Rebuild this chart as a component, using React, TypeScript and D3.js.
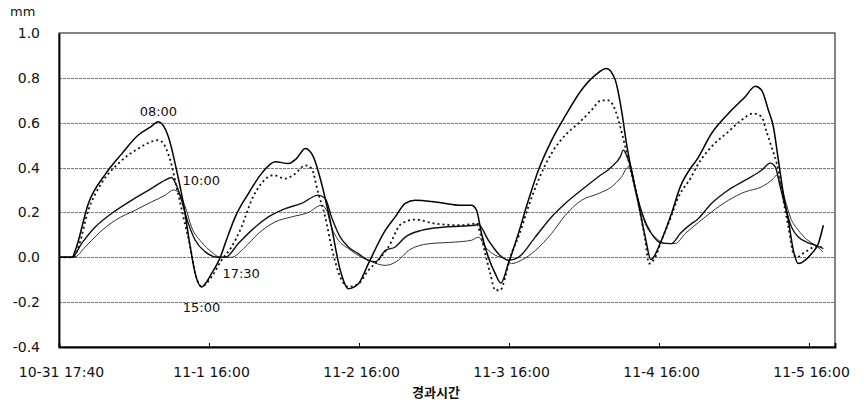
import * as d3 from "d3";
import { useEffect, useRef } from "react";

// elapsed hours (tick labels every 24h) and displacement in mm
const xTickLabels = ["10-31 17:40", "11-1 16:00", "11-2 16:00", "11-3 16:00", "11-4 16:00", "11-5 16:00"];
const yTicks = [1.0, 0.8, 0.6, 0.4, 0.2, 0.0, -0.2, -0.4];

// series A - solid, largest
const seriesA = [
  [0, 0], [2.1, 0], [2.6, 0.03], [4.7, 0.24], [7.4, 0.37], [10.0, 0.46], [12.7, 0.545], [14.6, 0.58],
  [15.9, 0.604], [17.5, 0.537], [18.8, 0.39], [19.9, 0.24], [21.0, 0.046], [21.8, -0.073], [22.8, -0.132],
  [24.4, -0.073], [25.8, 0.0], [26.7, 0.07], [28.2, 0.18], [30.3, 0.284], [32.4, 0.373], [34.6, 0.426],
  [36.7, 0.418], [38.0, 0.44], [39.4, 0.485], [40.7, 0.448], [42.0, 0.33], [43.6, 0.135], [45.0, -0.058],
  [46.3, -0.14], [47.9, -0.118], [49.5, -0.028], [52.2, 0.12], [53.8, 0.18], [55.4, 0.24], [57.0, 0.254],
  [60.2, 0.247], [64.4, 0.232], [66.0, 0.232], [66.8, 0.21], [67.6, 0.106], [68.7, 0.0], [69.8, -0.073],
  [70.7, -0.115], [71.9, -0.028], [73.5, 0.106], [75.1, 0.254], [76.7, 0.388], [78.8, 0.52], [81.0, 0.63],
  [83.6, 0.746], [85.8, 0.812], [87.6, 0.842], [89.0, 0.79], [90.0, 0.656], [90.8, 0.507], [91.6, 0.388],
  [92.7, 0.24], [93.8, 0.09], [94.7, -0.01], [96.4, 0.076], [98.0, 0.195], [99.4, 0.314], [101.2, 0.403],
  [102.0, 0.433], [104.4, 0.552], [107.1, 0.641], [109.8, 0.716], [111.4, 0.763], [112.4, 0.746],
  [113.5, 0.656], [114.3, 0.582], [115.1, 0.433], [115.9, 0.284], [116.7, 0.165], [117.5, 0.031],
  [118.3, -0.028], [119.4, -0.013], [120.4, 0.016], [121.5, 0.061], [122.3, 0.143],
];

// series B - dotted, large
const seriesB = [
  [0, 0], [2.3, 0], [3.1, 0.046], [4.7, 0.21], [6.8, 0.33], [9.5, 0.418], [12.7, 0.485], [15.9, 0.522],
  [16.7, 0.507], [17.8, 0.433], [18.8, 0.314], [19.9, 0.18], [21.0, 0.046], [21.8, -0.073], [22.8, -0.13],
  [24.4, -0.088], [26.0, -0.013], [27.6, 0.046], [29.2, 0.135], [30.8, 0.254], [32.4, 0.33], [34.3, 0.366],
  [36.2, 0.351], [37.8, 0.373], [39.4, 0.41], [40.4, 0.396], [41.5, 0.284], [42.6, 0.18], [43.6, 0.046],
  [45.0, -0.088], [46.3, -0.132], [47.9, -0.118], [49.5, -0.058], [51.1, -0.013], [52.7, 0.046],
  [54.8, 0.15], [57.0, 0.168], [60.2, 0.15], [64.4, 0.143], [66.8, 0.15], [67.4, 0.106], [68.2, 0.016],
  [69.0, -0.073], [69.8, -0.147], [70.6, -0.147], [71.4, -0.088], [72.2, 0.0], [73.5, 0.09], [75.1, 0.225],
  [76.7, 0.344], [78.8, 0.463], [81.0, 0.545], [83.1, 0.597], [85.2, 0.656], [86.8, 0.7], [87.9, 0.7],
  [89.0, 0.656], [89.8, 0.582], [90.6, 0.493], [91.6, 0.373], [92.7, 0.24], [93.8, 0.076], [94.4, -0.028],
  [95.4, 0.0], [96.4, 0.076], [97.5, 0.15], [99.1, 0.268], [101.2, 0.36], [102.0, 0.403], [104.4, 0.493],
  [107.1, 0.56], [109.2, 0.612], [111.1, 0.641], [112.4, 0.627], [113.2, 0.56], [114.0, 0.493],
  [115.1, 0.388], [115.9, 0.254], [116.7, 0.135], [117.5, 0.016], [118.0, 0.0], [119.4, 0.024],
  [121.0, 0.046], [122.0, 0.046],
];

// series C - solid, medium
const seriesC = [
  [0, 0], [2.1, 0], [3.6, 0.061], [5.8, 0.135], [8.4, 0.195], [11.6, 0.254], [14.8, 0.307], [17.0, 0.344],
  [18.0, 0.356], [18.8, 0.321], [19.6, 0.254], [20.7, 0.15], [21.8, 0.076], [23.4, 0.024], [25.5, 0.0],
  [26.6, 0.0], [28.7, 0.061], [30.8, 0.12], [33.5, 0.18], [36.2, 0.217], [38.8, 0.24], [41.5, 0.277],
  [42.6, 0.262], [43.6, 0.18], [45.0, 0.09], [46.3, 0.046], [47.9, 0.016], [49.5, -0.013], [50.6, -0.02],
  [52.2, 0.03], [53.8, 0.046], [55.4, 0.09], [58.0, 0.12], [61.8, 0.135], [66.6, 0.143], [67.0, 0.15],
  [68.7, 0.076], [70.3, 0.016], [71.9, -0.013], [73.5, 0.0], [76.2, 0.09], [78.8, 0.18], [81.0, 0.24],
  [83.6, 0.3], [86.3, 0.359], [88.4, 0.403], [89.8, 0.448], [90.3, 0.478], [90.8, 0.455], [91.6, 0.388],
  [92.4, 0.284], [93.5, 0.18], [94.8, 0.106], [96.4, 0.064], [98.0, 0.061], [99.4, 0.106], [101.2, 0.15],
  [102.0, 0.165], [104.4, 0.24], [107.1, 0.3], [109.8, 0.344], [112.4, 0.388], [113.8, 0.42],
  [114.6, 0.403], [115.4, 0.314], [116.2, 0.225], [117.2, 0.135], [118.3, 0.09], [119.6, 0.068],
  [121.0, 0.054], [122.3, 0.039],
];

// series D - thin solid, smallest
const seriesD = [
  [0, 0], [2.4, 0], [4.2, 0.046], [6.3, 0.106], [9.0, 0.165], [12.2, 0.21], [14.8, 0.247], [17.0, 0.277],
  [18.3, 0.3], [19.1, 0.29], [20.2, 0.225], [21.2, 0.135], [22.8, 0.068], [24.4, 0.024], [25.8, 0.0],
  [27.6, 0.0], [29.8, 0.046], [31.9, 0.106], [34.6, 0.158], [37.2, 0.18], [39.9, 0.2], [42.0, 0.232],
  [42.8, 0.21], [43.6, 0.135], [44.7, 0.076], [46.3, 0.039], [48.4, 0.0], [50.0, -0.02], [52.2, -0.036],
  [54.3, -0.013], [55.9, 0.03], [59.1, 0.06], [63.4, 0.068], [66.0, 0.076], [67.1, 0.09], [68.2, 0.046],
  [69.8, 0.009], [71.4, -0.006], [72.4, -0.028], [74.0, -0.013], [76.2, 0.03], [78.8, 0.106], [81.0, 0.187],
  [83.6, 0.254], [86.3, 0.284], [88.4, 0.314], [90.0, 0.359], [91.1, 0.403], [91.9, 0.344], [92.7, 0.254],
  [93.8, 0.15], [95.4, 0.09], [97.0, 0.061], [98.6, 0.061], [100.2, 0.106], [102.3, 0.155], [104.4, 0.202],
  [107.1, 0.254], [109.8, 0.292], [112.4, 0.314], [114.3, 0.351], [114.8, 0.366], [115.4, 0.329],
  [116.2, 0.254], [117.0, 0.18], [118.3, 0.12], [119.8, 0.076], [121.4, 0.046], [122.2, 0.024],
];

// time-of-day notes and the point they mark
const noteLabels = ["08:00", "10:00", "15:00", "17:30"];
const notePoints = [[15.9, 0.604], [18.0, 0.356], [22.8, -0.132], [25.5, 0.0]];

function App() {
  const ref = useRef(null);

  useEffect(() => {
    const width = 868;
    const height = 407;
    const margin = { top: 33, right: 33, bottom: 60, left: 59 };

    const svg = d3.select(ref.current);
    svg.selectAll("*").remove();

    const x = d3.scaleLinear().domain([0, 124.16]).range([margin.left, width - margin.right]);
    const y = d3.scaleLinear().domain([-0.4, 1.0]).range([height - margin.bottom, margin.top]);

    const font = "'DejaVu Sans', sans-serif";

    // grid
    svg
      .append("g")
      .selectAll("line")
      .data(yTicks.filter((d) => d > -0.4 && d < 1.0))
      .join("line")
      .attr("x1", x(0))
      .attr("x2", x(124.16))
      .attr("y1", (d) => Math.round(y(d)) + 0.5)
      .attr("y2", (d) => Math.round(y(d)) + 0.5)
      .attr("stroke", "#777")
      .attr("stroke-width", 1)
      .attr("stroke-dasharray", "3,1");

    // frame
    svg
      .append("rect")
      .attr("x", x(0))
      .attr("y", y(1.0))
      .attr("width", x(124.16) - x(0))
      .attr("height", y(-0.4) - y(1.0))
      .attr("fill", "none")
      .attr("stroke", "#333")
      .attr("stroke-width", 1.2);

    // y axis
    const yAxis = svg
      .append("g")
      .attr("transform", `translate(${x(0)},0)`)
      .call(d3.axisLeft(y).tickValues(yTicks).tickSize(0).tickPadding(19).tickFormat(d3.format(".1f")));
    yAxis.select(".domain").attr("stroke", "#000").attr("stroke-width", 1.8);
    yAxis.selectAll("text").attr("font-family", font).attr("font-size", 14).attr("fill", "#111")
      .text((d) => d3.format(".1f")(d).replace("−", "-"));

    // x axis
    const xAxis = svg
      .append("g")
      .attr("transform", `translate(0,${y(-0.4)})`)
      .call(
        d3
          .axisBottom(x)
          .tickValues(xTickLabels.map((_, i) => i * 24))
          .tickSize(-4)
          .tickPadding(20)
          .tickFormat((d, i) => xTickLabels[i])
      );
    xAxis.select(".domain").attr("stroke", "#000").attr("stroke-width", 1.8);
    xAxis.selectAll(".tick line").attr("stroke", "#000");
    xAxis.selectAll("text").attr("font-family", font).attr("font-size", 14).attr("fill", "#111").attr("dx", 2)
      .attr("xml:space", "preserve");

    // lines
    const line = d3
      .line()
      .x((d) => x(d[0]))
      .y((d) => y(d[1]))
      .curve(d3.curveMonotoneX);

    const styles = [
      { data: seriesD, width: 1, dash: null, color: "#333" },
      { data: seriesC, width: 1.4, dash: null, color: "#111" },
      { data: seriesB, width: 1.8, dash: "2,3", color: "#111" },
      { data: seriesA, width: 1.5, dash: null, color: "#000" },
    ];

    styles.forEach((s) => {
      svg
        .append("path")
        .datum(s.data)
        .attr("fill", "none")
        .attr("stroke", s.color)
        .attr("stroke-width", s.width)
        .attr("stroke-dasharray", s.dash)
        .attr("stroke-linejoin", "round")
        .attr("d", line);
    });

    // notes
    const offsets = [
      { dx: 0, dy: -6, anchor: "middle" },
      { dx: 11, dy: 8, anchor: "start" },
      { dx: 0, dy: 25, anchor: "middle" },
      { dx: 4, dy: 21, anchor: "start" },
    ];
    noteLabels.forEach((t, i) => {
      svg
        .append("text")
        .attr("x", x(notePoints[i][0]) + offsets[i].dx)
        .attr("y", y(notePoints[i][1]) + offsets[i].dy)
        .attr("text-anchor", offsets[i].anchor)
        .attr("font-family", font)
        .attr("font-size", 13)
        .attr("fill", "#111")
        .text(t);
    });

    // unit and axis title
    svg.append("text").attr("x", 10).attr("y", 16).attr("font-family", font).attr("font-size", 13)
      .attr("fill", "#111").text("mm");

    svg
      .append("text")
      .attr("x", 436)
      .attr("y", 397)
      .attr("text-anchor", "middle")
      .attr("font-family", "'Noto Sans CJK KR', sans-serif")
      .attr("font-size", 13)
      .attr("font-weight", "bold")
      .attr("fill", "#111")
      .text("경과시간");
  }, []);

  return (
    <svg
      ref={ref}
      width={868}
      height={407}
      style={{ position: "absolute", left: 0, top: 0, background: "#fff" }}
    />
  );
}

export default App;
